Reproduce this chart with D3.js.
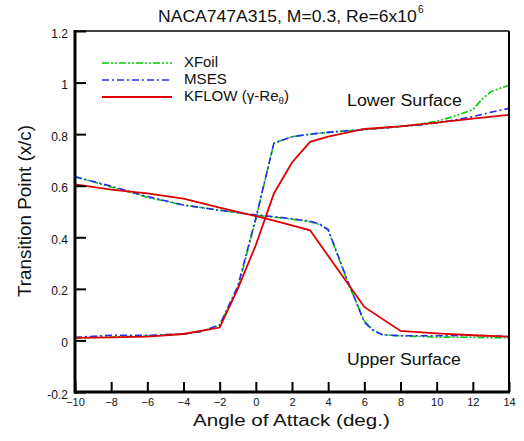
<!DOCTYPE html>
<html><head><meta charset="utf-8">
<script src="https://cdn.jsdelivr.net/npm/d3@7"></script>
<style>body{margin:0;background:#fff;font-family:"Liberation Sans",Arial,sans-serif;}</style>
</head><body><svg id="c" width="524" height="441"></svg>
<script>
const xTicks = [-10,-8,-6,-4,-2,0,2,4,6,8,10,12,14];
const yTicks = [-0.2,0,0.2,0.4,0.6,0.8,1,1.2];
const yTickLabels = ["-0.2","0","0.2","0.4","0.6","0.8","1","1.2"];

// Rising branch (labelled "Lower Surface")
const xfoilLowAlpha = [-10,-8,-6,-4,-3,-2,-1,0,1,2,3,4,5,6,7,8,9,10,11,12,12.5,13,14];
const xfoilLowX     = [0.01,0.013,0.017,0.025,0.035,0.06,0.2,0.47,0.765,0.79,0.8,0.807,0.813,0.818,0.823,0.83,0.838,0.85,0.87,0.895,0.935,0.965,0.99];
const msesLowAlpha  = [-10,-8,-6,-4,-3,-2,-1,0,1,2,3,4,5,6,7,8,9,10,11,12,13,14];
const msesLowX      = [0.012,0.02,0.02,0.025,0.035,0.06,0.21,0.475,0.765,0.79,0.8,0.807,0.813,0.818,0.823,0.83,0.835,0.843,0.855,0.868,0.885,0.9];
const kflowLowAlpha = [-10,-8,-6,-4,-2,-1,0,1,2,3,4,6,8,10,12,14];
const kflowLowX     = [0.01,0.012,0.015,0.025,0.05,0.2,0.37,0.57,0.69,0.77,0.79,0.82,0.83,0.845,0.86,0.875];

// Falling branch (labelled "Upper Surface")
const xfoilUpAlpha = [-10,-8,-6,-4,-2,0,1,2,3,3.5,4,5,6,6.5,7,8,10,12,14];
const xfoilUpX     = [0.635,0.595,0.555,0.525,0.505,0.485,0.478,0.47,0.46,0.45,0.428,0.24,0.075,0.04,0.022,0.018,0.013,0.012,0.01];
const msesUpAlpha  = [-10,-8,-6,-4,-2,0,1,2,3,3.5,4,5,6,6.5,7,8,10,12,14];
const msesUpX      = [0.635,0.598,0.558,0.525,0.505,0.487,0.48,0.472,0.462,0.452,0.43,0.245,0.07,0.038,0.022,0.018,0.018,0.02,0.015];
const kflowUpAlpha = [-10,-8,-6,-4,-2,0,1,2,3,6,8,10,12,14];
const kflowUpX     = [0.605,0.585,0.57,0.55,0.515,0.482,0.465,0.446,0.427,0.13,0.037,0.027,0.02,0.015];

const seriesNames = ["XFoil","MSES","KFLOW (\u03b3-Re\u03b8)"];

const svg = d3.select("#c");
const L=75,R=509,T=31,B=392;
const x = d3.scaleLinear().domain([-10,14]).range([L,R]);
const y = d3.scaleLinear().domain([-0.2,1.2]).range([B,T]);
const FONT = "'Liberation Sans',Arial,sans-serif";

// stretch a left-anchored text horizontally to a target width
function fit(sel, x0, w){
  const bw = sel.node().getBBox().width;
  const s = w / bw;
  sel.attr("transform", `translate(${x0},0) scale(${s},1) translate(${-x0},0)`);
}

// title
const title = svg.append("text").attr("x",158).attr("y",22)
  .style("font-size","16px").style("font-family",FONT).attr("fill","#111")
  .text("NACA747A315, M=0.3, Re=6x10");
fit(title,158,259);
svg.append("text").attr("x",418).attr("y",13).style("font-size","10px").style("font-family",FONT).attr("fill","#111").text("6");

const g = svg.append("g");
const lineGen = (xs, ys) => d3.line().x((d,i)=>x(xs[i])).y((d,i)=>y(ys[i]))(xs);

const styles = [
  {c:"#00cc00", w:1.6, dash:"7,2,2,2,2,2"},
  {c:"#2a2aff", w:1.6, dash:"7,3,2,3"},
  {c:"#dd0000", w:1.8, dash:null}
];
const data = [
  [[xfoilLowAlpha,xfoilLowX],[xfoilUpAlpha,xfoilUpX]],
  [[msesLowAlpha,msesLowX],[msesUpAlpha,msesUpX]],
  [[kflowLowAlpha,kflowLowX],[kflowUpAlpha,kflowUpX]]
];
data.forEach((ser,si)=>{
  ser.forEach(([xs,ys])=>{
    g.append("path").attr("d",lineGen(xs,ys)).attr("fill","none")
      .attr("stroke",styles[si].c).attr("stroke-width",styles[si].w)
      .attr("stroke-dasharray",styles[si].dash);
  });
});

// axes
const xAxis = d3.axisBottom(x).tickValues(xTicks).tickSize(-10).tickPadding(6).tickFormat(d3.format("d"));
const ax = svg.append("g").attr("transform",`translate(0,${B})`).call(xAxis);
const yAxis = d3.axisLeft(y).tickValues(yTicks).tickSize(-11).tickPadding(7).tickFormat((d,i)=>yTickLabels[i]);
const ay = svg.append("g").attr("transform",`translate(${L},0)`).call(yAxis);
[ax,ay].forEach(a=>{
  a.select(".domain").remove();
  a.selectAll(".tick line").attr("stroke","#000").attr("stroke-width",2);
  a.selectAll(".tick text").attr("fill","#111").style("font-family",FONT);
});
ax.selectAll(".tick text").attr("dy","0.71em").style("font-size","11px");
ay.selectAll(".tick text").attr("dy","0.5em").style("font-size","12px");

// frame
svg.append("line").attr("x1",L).attr("x2",R).attr("y1",T).attr("y2",T).attr("stroke","#000").attr("stroke-width",1.5);
svg.append("line").attr("x1",R).attr("x2",R).attr("y1",T).attr("y2",B).attr("stroke","#000").attr("stroke-width",2);
svg.append("line").attr("x1",L).attr("x2",L).attr("y1",T-1).attr("y2",B+1.5).attr("stroke","#000").attr("stroke-width",3);
svg.append("line").attr("x1",L-1).attr("x2",R+1).attr("y1",B).attr("y2",B).attr("stroke","#000").attr("stroke-width",3);

// legend
const lg = svg.append("g");
const legW = [34,43,105];
const legBase = [67.3,84.3,100.7];
seriesNames.forEach((n,i)=>{
  const yy = 63 + i*17;
  lg.append("line").attr("x1",102).attr("x2",172).attr("y1",yy).attr("y2",yy)
    .attr("stroke",styles[i].c).attr("stroke-width",styles[i].w).attr("stroke-dasharray",styles[i].dash);
  const t = lg.append("text").attr("x",184).attr("y",legBase[i]).style("font-size","14px").style("font-family",FONT).attr("fill","#111");
  if(i<2) t.text(n);
  else {
    t.append("tspan").text("KFLOW (\u03b3-Re");
    t.append("tspan").text("\u03b8").attr("dy",3).style("font-size","9px");
    t.append("tspan").text(")").attr("dy",-3);
  }
  fit(t,184,legW[i]);
});

// annotations
const lo = svg.append("text").attr("x",347).attr("y",106).style("font-size","16px").style("font-family",FONT).attr("fill","#111").text("Lower Surface");
fit(lo,347,115);
const up = svg.append("text").attr("x",347).attr("y",365).style("font-size","16px").style("font-family",FONT).attr("fill","#111").text("Upper Surface");
fit(up,347,114);

// axis titles
const xt = svg.append("text").attr("x",193).attr("y",426).style("font-size","17px").style("font-family",FONT).attr("fill","#111").text("Angle of Attack (deg.)");
fit(xt,193,197);
svg.append("text").attr("transform","translate(31,211) rotate(-90)").attr("text-anchor","middle")
  .style("font-size","18.5px").style("font-family",FONT).attr("fill","#111")
  .attr("textLength",172).attr("lengthAdjust","spacingAndGlyphs").text("Transition Point (x/c)");
</script></body></html>
